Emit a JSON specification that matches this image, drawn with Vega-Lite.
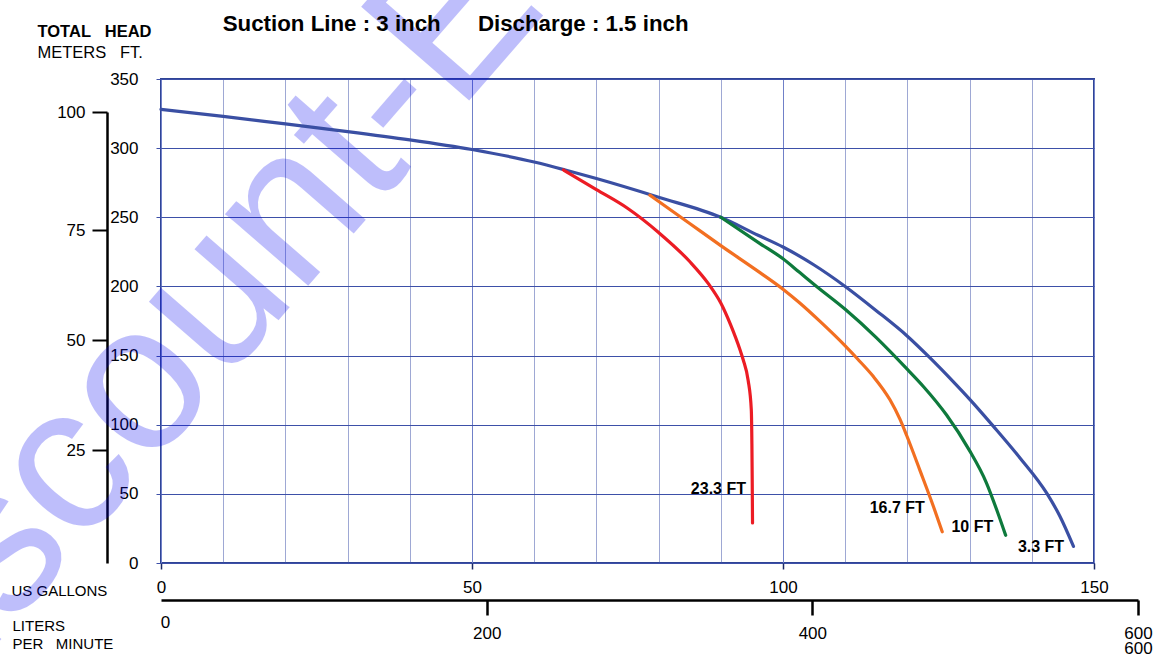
{
  "$schema": "https://vega.github.io/schema/vega-lite/v6.json",
  "description": "Pump performance curve: total head vs flow for four suction lifts.",
  "width": 933,
  "height": 484,
  "autosize": "none",
  "padding": {"left": 161, "top": 79, "right": 63, "bottom": 93},
  "background": "white",
  "datasets": {
    "curves": [
      {"series": "3.3 FT", "ord": 1, "gpm": 0, "ft": 328},
      {"series": "3.3 FT", "ord": 2, "gpm": 10, "ft": 323},
      {"series": "3.3 FT", "ord": 3, "gpm": 20, "ft": 317.5},
      {"series": "3.3 FT", "ord": 4, "gpm": 30, "ft": 312},
      {"series": "3.3 FT", "ord": 5, "gpm": 40, "ft": 306},
      {"series": "3.3 FT", "ord": 6, "gpm": 50, "ft": 299},
      {"series": "3.3 FT", "ord": 7, "gpm": 60, "ft": 290},
      {"series": "3.3 FT", "ord": 8, "gpm": 65, "ft": 284.2},
      {"series": "3.3 FT", "ord": 9, "gpm": 70, "ft": 278},
      {"series": "3.3 FT", "ord": 10, "gpm": 80, "ft": 264.5},
      {"series": "3.3 FT", "ord": 11, "gpm": 90, "ft": 250},
      {"series": "3.3 FT", "ord": 12, "gpm": 96, "ft": 237},
      {"series": "3.3 FT", "ord": 13, "gpm": 100, "ft": 228.5},
      {"series": "3.3 FT", "ord": 14, "gpm": 105, "ft": 215.5},
      {"series": "3.3 FT", "ord": 15, "gpm": 110, "ft": 200},
      {"series": "3.3 FT", "ord": 16, "gpm": 115, "ft": 182.5},
      {"series": "3.3 FT", "ord": 17, "gpm": 120, "ft": 164},
      {"series": "3.3 FT", "ord": 18, "gpm": 123.6, "ft": 148.5},
      {"series": "3.3 FT", "ord": 19, "gpm": 127.4, "ft": 131},
      {"series": "3.3 FT", "ord": 20, "gpm": 130.1, "ft": 118},
      {"series": "3.3 FT", "ord": 21, "gpm": 133.8, "ft": 99},
      {"series": "3.3 FT", "ord": 22, "gpm": 138.1, "ft": 76},
      {"series": "3.3 FT", "ord": 23, "gpm": 142.4, "ft": 50.5},
      {"series": "3.3 FT", "ord": 24, "gpm": 144.5, "ft": 34},
      {"series": "3.3 FT", "ord": 25, "gpm": 146.7, "ft": 12},
      {"series": "23.3 FT", "ord": 1, "gpm": 64.7, "ft": 284.2},
      {"series": "23.3 FT", "ord": 2, "gpm": 70, "ft": 270},
      {"series": "23.3 FT", "ord": 3, "gpm": 75, "ft": 256.5},
      {"series": "23.3 FT", "ord": 4, "gpm": 80, "ft": 239},
      {"series": "23.3 FT", "ord": 5, "gpm": 85, "ft": 218},
      {"series": "23.3 FT", "ord": 6, "gpm": 88, "ft": 202},
      {"series": "23.3 FT", "ord": 7, "gpm": 90, "ft": 188},
      {"series": "23.3 FT", "ord": 8, "gpm": 91.6, "ft": 172},
      {"series": "23.3 FT", "ord": 9, "gpm": 93.1, "ft": 154},
      {"series": "23.3 FT", "ord": 10, "gpm": 93.6, "ft": 147},
      {"series": "23.3 FT", "ord": 11, "gpm": 94.4, "ft": 132},
      {"series": "23.3 FT", "ord": 12, "gpm": 94.9, "ft": 111},
      {"series": "23.3 FT", "ord": 13, "gpm": 95.0, "ft": 86},
      {"series": "23.3 FT", "ord": 14, "gpm": 95.05, "ft": 60},
      {"series": "23.3 FT", "ord": 15, "gpm": 95.1, "ft": 29},
      {"series": "16.7 FT", "ord": 1, "gpm": 78.6, "ft": 266},
      {"series": "16.7 FT", "ord": 2, "gpm": 85, "ft": 245.5},
      {"series": "16.7 FT", "ord": 3, "gpm": 90, "ft": 229.5},
      {"series": "16.7 FT", "ord": 4, "gpm": 96.3, "ft": 210},
      {"series": "16.7 FT", "ord": 5, "gpm": 100, "ft": 198},
      {"series": "16.7 FT", "ord": 6, "gpm": 102.7, "ft": 188},
      {"series": "16.7 FT", "ord": 7, "gpm": 106, "ft": 174.5},
      {"series": "16.7 FT", "ord": 8, "gpm": 110, "ft": 157},
      {"series": "16.7 FT", "ord": 9, "gpm": 112, "ft": 147.5},
      {"series": "16.7 FT", "ord": 10, "gpm": 114.5, "ft": 135},
      {"series": "16.7 FT", "ord": 11, "gpm": 117.2, "ft": 118},
      {"series": "16.7 FT", "ord": 12, "gpm": 118.8, "ft": 104},
      {"series": "16.7 FT", "ord": 13, "gpm": 119.9, "ft": 92},
      {"series": "16.7 FT", "ord": 14, "gpm": 122, "ft": 67.2},
      {"series": "16.7 FT", "ord": 15, "gpm": 124.2, "ft": 40.7},
      {"series": "16.7 FT", "ord": 16, "gpm": 125.6, "ft": 22.6},
      {"series": "10 FT", "ord": 1, "gpm": 90, "ft": 250},
      {"series": "10 FT", "ord": 2, "gpm": 96.3, "ft": 231},
      {"series": "10 FT", "ord": 3, "gpm": 100, "ft": 220},
      {"series": "10 FT", "ord": 4, "gpm": 102.7, "ft": 210},
      {"series": "10 FT", "ord": 5, "gpm": 105.4, "ft": 200},
      {"series": "10 FT", "ord": 6, "gpm": 110, "ft": 183.5},
      {"series": "10 FT", "ord": 7, "gpm": 115, "ft": 163},
      {"series": "10 FT", "ord": 8, "gpm": 120, "ft": 140},
      {"series": "10 FT", "ord": 9, "gpm": 122.6, "ft": 127.5},
      {"series": "10 FT", "ord": 10, "gpm": 126.3, "ft": 107},
      {"series": "10 FT", "ord": 11, "gpm": 129.9, "ft": 82},
      {"series": "10 FT", "ord": 12, "gpm": 132.7, "ft": 58},
      {"series": "10 FT", "ord": 13, "gpm": 134.4, "ft": 38},
      {"series": "10 FT", "ord": 14, "gpm": 135.8, "ft": 20}
    ],
    "labels": [
      {"gpm": 94.05, "ft": 53.5, "label": "23.3 FT"},
      {"gpm": 122.8, "ft": 39.8, "label": "16.7 FT"},
      {"gpm": 133.8, "ft": 26, "label": "10 FT"},
      {"gpm": 145.2, "ft": 11.6, "label": "3.3 FT"}
    ],
    "heading": [
      {"gpm": 9.92, "ft": 384.8, "label": "Suction Line : 3 inch\u00a0\u00a0\u00a0\u00a0\u00a0\u00a0Discharge : 1.5 inch"}
    ],
    "watermark": [
      {"gpm": -44.9, "ft": -154.4, "label": "Discount-Equipment"}
    ],
    "meters": [{"m": 0}, {"m": 100}],
    "liters": [{"lpm": 0}, {"lpm": 600}]
  },
  "layer": [
    {
      "encoding": {
        "x": {
          "field": "gpm",
          "type": "quantitative",
          "scale": {"domain": [0, 150], "nice": false, "zero": false},
          "axis": {
            "orient": "bottom",
            "values": [0, 10, 20, 30, 40, 50, 60, 70, 80, 90, 100, 110, 120, 130, 140, 150],
            "labelExpr": "datum.value % 50 === 0 ? datum.label : ''",
            "labelFlush": false,
            "labelOverlap": false,
            "labelFontSize": 17,
            "labelPadding": 10,
            "tickSize": 6,
            "tickWidth": 1.5,
            "tickColor": "#1c2a66",
            "tickOpacity": {"condition": {"test": "datum.value % 50 === 0", "value": 1}, "value": 0},
            "domain": false,
            "grid": true,
            "gridWidth": 1,
            "gridColor": {"condition": {"test": "datum.value % 50 === 0", "value": "#7080c8"}, "value": "#3d50a8"},
            "gridDash": {"condition": {"test": "datum.value % 50 === 0", "value": []}, "value": [1, 1]},
            "title": "US GALLONS",
            "titleX": -150,
            "titleY": 27,
            "titleAlign": "left",
            "titleBaseline": "middle",
            "titleFontSize": 15,
            "titleFontWeight": "normal"
          }
        },
        "y": {
          "field": "ft",
          "type": "quantitative",
          "scale": {"domain": [0, 350], "nice": false, "zero": false},
          "axis": {
            "orient": "left",
            "values": [0, 50, 100, 150, 200, 250, 300, 350],
            "labelFontSize": 17,
            "labelPadding": 18,
            "tickSize": 5,
            "tickColor": "#3d50a8",
            "domain": false,
            "grid": true,
            "gridWidth": 1,
            "gridColor": "#3d50a8",
            "title": "TOTAL\u00a0\u00a0\u00a0HEAD",
            "titleAngle": 0,
            "titleX": -124,
            "titleY": -48,
            "titleAlign": "left",
            "titleBaseline": "middle",
            "titleFontSize": 16.5,
            "titleFontWeight": "bold"
          }
        }
      },
      "layer": [
        {
          "data": {"name": "watermark"},
          "mark": {
            "type": "text",
            "font": "Liberation Sans",
            "fontSize": 208,
            "angle": -49,
            "align": "left",
            "baseline": "alphabetic",
            "fill": "#0000f0",
            "opacity": 0.25
          },
          "encoding": {"text": {"field": "label"}}
        },
        {
          "data": {"name": "curves"},
          "mark": {"type": "line", "strokeWidth": 3.2, "strokeCap": "round", "interpolate": "monotone"},
          "encoding": {
            "color": {
              "field": "series",
              "type": "nominal",
              "scale": {
                "domain": ["3.3 FT", "10 FT", "16.7 FT", "23.3 FT"],
                "range": ["#3a4fa3", "#0e7a3c", "#f26f21", "#ec1c24"]
              },
              "legend": null
            },
            "order": {"field": "ord", "type": "quantitative"}
          }
        },
        {
          "data": {"name": "labels"},
          "mark": {
            "type": "text",
            "align": "right",
            "baseline": "middle",
            "font": "Liberation Sans",
            "fontSize": 16,
            "fontWeight": "bold",
            "color": "#000"
          },
          "encoding": {"text": {"field": "label"}}
        },
        {
          "data": {"name": "heading"},
          "mark": {
            "type": "text",
            "align": "left",
            "baseline": "alphabetic",
            "font": "Liberation Sans",
            "fontSize": 22.3,
            "fontWeight": "bold",
            "color": "#000"
          },
          "encoding": {"text": {"field": "label"}}
        }
      ]
    },
    {
      "data": {"name": "meters"},
      "mark": {"type": "point", "opacity": 0},
      "encoding": {
        "y": {
          "field": "m",
          "type": "quantitative",
          "scale": {"domain": [0, 25, 50, 75, 100], "range": [484, 371, 261, 151, 33]},
          "axis": {
            "orient": "left",
            "offset": 54,
            "values": [25, 50, 75, 100],
            "labelFontSize": 17,
            "labelPadding": 7,
            "tickSize": 15,
            "tickWidth": 2,
            "tickColor": "#000",
            "domainColor": "#000",
            "domainWidth": 2.5,
            "grid": false,
            "title": "METERS\u00a0\u00a0\u00a0FT.",
            "titleAngle": 0,
            "titleX": -70,
            "titleY": -27,
            "titleAlign": "left",
            "titleBaseline": "middle",
            "titleFontSize": 16.5,
            "titleFontWeight": "normal"
          }
        }
      }
    },
    {
      "data": {"name": "liters"},
      "mark": {"type": "point", "opacity": 0},
      "encoding": {
        "x": {
          "field": "lpm",
          "type": "quantitative",
          "scale": {"domain": [0, 600], "range": [0, 977]},
          "axis": {
            "orient": "bottom",
            "offset": 37,
            "values": [0, 200, 400, 600],
            "labelExpr": "datum.value === 600 ? ['600', '600'] : datum.label",
            "labelFlush": false,
            "labelOverlap": false,
            "labelFontSize": 17,
            "labelLineHeight": 15,
            "labelPadding": {"condition": {"test": "datum.value === 0", "value": -1}, "value": 10},
            "labelOffset": {"condition": {"test": "datum.value === 0", "value": 4}, "value": 0},
            "tickSize": 15,
            "tickWidth": 2.5,
            "tickColor": "#000",
            "tickOpacity": {"condition": {"test": "datum.value === 0", "value": 0}, "value": 1},
            "domainColor": "#000",
            "domainWidth": 2.5,
            "grid": false,
            "title": ["LITERS", "PER\u00a0\u00a0\u00a0MINUTE"],
            "titleX": -149,
            "titleY": 18,
            "titleAlign": "left",
            "titleBaseline": "top",
            "titleLineHeight": 18.7,
            "titleFontSize": 15,
            "titleFontWeight": "normal"
          }
        }
      }
    }
  ],
  "resolve": {
    "scale": {"x": "independent", "y": "independent"},
    "axis": {"x": "independent", "y": "independent"}
  },
  "config": {
    "font": "Liberation Sans",
    "view": {"stroke": "#2f4496", "strokeWidth": 2},
    "axis": {
      "labelFont": "Liberation Sans",
      "titleFont": "Liberation Sans",
      "labelColor": "#000",
      "titleColor": "#000"
    }
  }
}
